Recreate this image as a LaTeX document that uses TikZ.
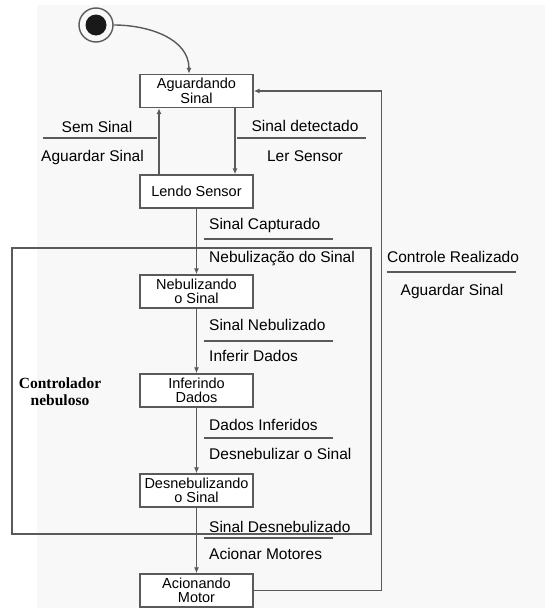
\documentclass[tikz,border=0pt]{standalone}
\usepackage{fontspec}
\setmainfont{Liberation Sans}
\newfontfamily\ctrlfont{Liberation Serif}
\usetikzlibrary{arrows.meta}

\definecolor{linegray}{HTML}{5A5A5A}
\definecolor{bggray}{HTML}{F8F8F8}

\begin{document}
\begin{tikzpicture}[
  x=1pt, y=-1pt,
  font=\fontsize{15.5}{13.5}\selectfont,
  state/.style={draw=linegray, fill=white, rectangle, line width=1.4pt,
                minimum width=113pt, minimum height=33pt, align=center,
                inner xsep=2pt, inner ysep=0pt,
                font=\fontsize{14.5}{14.5}\selectfont},
  arr/.style={-{Latex[length=6pt,width=5pt]}, line width=1.4pt, linegray},
  sep/.style={line width=1.4pt, linegray},
  lbl/.style={inner sep=0pt, anchor=base west},
  clbl/.style={inner sep=0pt, anchor=base},
]
  \useasboundingbox (0,0) rectangle (545,608);
  \fill[bggray] (37,5) rectangle (545,608);

  \def\xS{196.5}  % state column
  \def\xL{209}    % labels right of the column

  % --- Controlador nebuloso outline ---
  \draw[line width=1.4pt, linegray] (12,248) rectangle (371,534);
  \node[inner sep=0pt, align=center, font=\ctrlfont\bfseries\fontsize{15.5}{17}\selectfont]
    (ctrl) at (60,392) {Controlador\\nebuloso};

  % --- States ---
  \fill[black!90] (96,25) circle (10.5);
  \node[draw=linegray, circle, line width=1.4pt, minimum size=34pt, inner sep=0pt]
    (ini) at (96,25) {};
  \node[state] (sAguard) at (\xS,91)    {Aguardando\\Sinal};
  \node[state] (sLendo)  at (\xS,191.5) {Lendo Sensor};
  \node[state] (sNebul)  at (\xS,291.5) {Nebulizando\\o Sinal};
  \node[state] (sInfer)  at (\xS,390.5) {Inferindo\\Dados};
  \node[state] (sDesneb) at (\xS,490.5) {Desnebulizando\\o Sinal};
  \node[state] (sAciona) at (\xS,590.5) {Acionando\\Motor};

  % --- Transitions ---
  \draw[arr] (ini.east) to[out=0, in=90] ([xshift=-7.5]sAguard.north);
  \draw[arr] ([xshift=38.5]sAguard.south) -- ([xshift=38.5]sLendo.north);
  \draw[arr] ([xshift=-37.5]sLendo.north) -- ([xshift=-37.5]sAguard.south);
  \draw[arr] (sLendo) -- (sNebul);
  \draw[arr] (sNebul) -- (sInfer);
  \draw[arr] (sInfer) -- (sDesneb);
  \draw[arr] (sDesneb) -- (sAciona);
  \draw[arr] (sAciona.east) -- ++(128,0) |- (sAguard.east);

  % --- Guards / actions ---
  \node[clbl] (gSem) at (97,132) {Sem Sinal};
  \draw[sep] (43,138) -- (157,138);
  \node[clbl] (aSem) at (92.5,161) {Aguardar Sinal};

  \node[clbl] (gDet) at (305,131) {Sinal detectado};
  \draw[sep] (237,138) -- (366,138);
  \node[clbl] (aDet) at (305,161) {Ler Sensor};

  \node[lbl] (gCap) at (\xL,229) {Sinal Capturado};
  \draw[sep] (204,239) -- (333,239);
  \node[lbl] (aCap) at (\xL,262) {Nebulização do Sinal};

  \node[clbl] (gCtrl) at (453,262) {Controle Realizado};
  \draw[sep] (387,272) -- (516,272);
  \node[clbl] (aCtrl) at (452,295) {Aguardar Sinal};

  \node[lbl] (gNeb) at (\xL,330) {Sinal Nebulizado};
  \draw[sep] (204,341) -- (333,341);
  \node[lbl] (aNeb) at (\xL,361) {Inferir Dados};

  \node[lbl] (gInf) at (\xL,430) {Dados Inferidos};
  \draw[sep] (204,438) -- (333,438);
  \node[lbl] (aInf) at (\xL,459) {Desnebulizar o Sinal};

  \node[lbl] (gDes) at (\xL,532) {Sinal Desnebulizado};
  \draw[sep] (204,538) -- (333,538);
  \node[lbl] (aDes) at (\xL,559) {Acionar Motores};

\end{tikzpicture}
\end{document}
